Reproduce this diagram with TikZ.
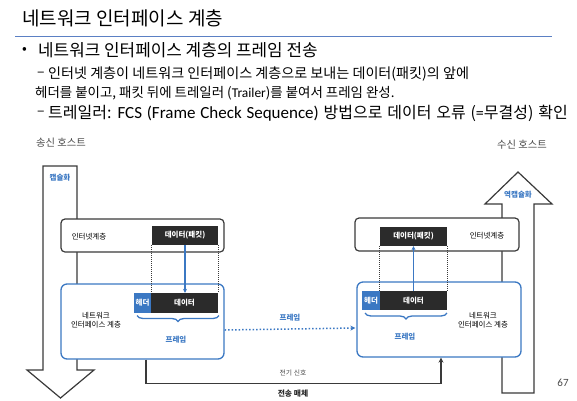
\documentclass[tikz,border=0pt]{standalone}
\usepackage{fontspec}
\setmainfont{Noto Sans CJK KR}
\newfontfamily\lat{Carlito}
\usetikzlibrary{arrows.meta,decorations.pathreplacing}
\definecolor{ifblue}{HTML}{3B78C3}
\definecolor{rulblue}{HTML}{5B80C4}
\definecolor{darkbox}{HTML}{2B2B2B}
\definecolor{edge}{HTML}{3A3A3A}
\definecolor{labgray}{HTML}{4A4A4A}
\tikzset{
  layerbox/.style={draw=edge, line width=1.2pt, rounded corners=4pt, fill=white, inner sep=0pt},
  netbox/.style={draw=ifblue, line width=1.3pt, rounded corners=6pt, fill=white, inner sep=0pt},
  databox/.style={fill=darkbox, text=white, inner sep=0pt, font=\fontsize{7.5}{8}\selectfont\bfseries},
  headbox/.style={fill=ifblue, text=white, inner sep=0pt, font=\fontsize{7.5}{8}\selectfont\bfseries},
  bigarrow/.style={draw=edge, line width=1.2pt, fill=white, line join=miter},
  small/.style={inner sep=0pt, text=labgray, font=\fontsize{7.5}{9}\selectfont},
  bluelab/.style={inner sep=0pt, text=ifblue, font=\fontsize{7.5}{9}\selectfont\bfseries},
  guide/.style={densely dotted, line width=1pt, draw=edge},
  flow/.style={draw=ifblue, line width=1.2pt, -{Stealth[length=4pt,width=4pt]}},
  framebrace/.style={draw=ifblue, line width=1.3pt, decorate, decoration={brace, mirror, amplitude=6pt}},
  txt/.style={inner sep=0pt, anchor=west, text=black}
}
\begin{document}
\begin{tikzpicture}[x=1pt,y=-1pt]
\useasboundingbox (0,0) rectangle (577,400);

% heading and bullets
\node[txt, font=\fontsize{19}{21}\selectfont] (title) at (22,18) {네트워크 인터페이스 계층};
\draw[rulblue, line width=1.5pt] (15,36.5) -- (552,36.5);
\node[txt, font=\fontsize{14}{16}\selectfont] (b1) at (22,50) {•};
\node[txt, font=\fontsize{16.9}{18}\selectfont] (t1) at (38,50) {네트워크 인터페이스 계층의 프레임 전송};
\node[txt, font=\fontsize{13.9}{15}\selectfont] (d1) at (37,74) {–};
\node[txt, font=\fontsize{14.1}{15}\selectfont] (t2) at (48,74) {인터넷 계층이 네트워크 인터페이스 계층으로 보내는 데이터(패킷)의 앞에};
\node[txt, font=\fontsize{13.45}{15}\selectfont] (t3) at (35,93) {헤더를 붙이고, 패킷 뒤에 트레일러 ({\lat Trailer})를 붙여서 프레임 완성.};
\node[txt, font=\fontsize{13.9}{15}\selectfont] (d2) at (37,113) {–};
\node[txt, font=\fontsize{16}{17}\selectfont] (t4) at (48,113) {\spaceskip=4.8pt 트레일러: {\lat\fontsize{17}{18}\selectfont FCS (Frame Check Sequence)} 방법으로 데이터 오류 ({\lat =}무결성) 확인};

% hosts
\node[small, font=\fontsize{10.3}{11}\selectfont] (snd) at (61,143) {송신 호스트};
\node[small, font=\fontsize{10.3}{11}\selectfont] (rcv) at (522,145) {수신 호스트};

% encapsulation / decapsulation arrows
\draw[bigarrow] (43,166) -- (77,166) -- (77,370) -- (94,370) -- (60.5,398) -- (27,370) -- (43,370) -- cycle;
\draw[bigarrow] (502,393) -- (502,204) -- (485,204) -- (518,172) -- (552,204) -- (534,204) -- (534,393) -- cycle;
\node[bluelab] (enc) at (60,178) {캡슐화};
\node[bluelab] (dec) at (518,195) {역캡슐화};

% sending host layers
\node[layerbox, minimum width=163pt, minimum height=33pt] (lip) at (142.5,235.5) {};
\node[small, text=black] (liptxt) at (89,237) {인터넷계층};
\node[databox, minimum width=66pt, minimum height=19pt] (lpkt) at (185,235.5) {데이터(패킷)};
\node[netbox, minimum width=163pt, minimum height=75pt] (lnet) at (142.5,321.5) {};
\node[small, text=black, align=center, font=\fontsize{7.5}{9}\selectfont] (lnettxt) at (96,320) {네트워크\\인터페이스 계층};
\node[headbox, minimum width=17pt, minimum height=20pt] (lhdr) at (142.5,303) {헤더};
\node[databox, minimum width=67pt, minimum height=20pt] (ldata) at (184.5,303) {데이터};
\draw[framebrace] (137,315.5) -- (219,315.5);
\node[bluelab] (lfr) at (176,340) {프레임};

% receiving host layers
\node[layerbox, minimum width=164pt, minimum height=33pt] (rip) at (437,234.5) {};
\node[small, text=black] (riptxt) at (487,236) {인터넷계층};
\node[databox, minimum width=67pt, minimum height=19pt] (rpkt) at (413.5,236.5) {데이터(패킷)};
\node[netbox, minimum width=164pt, minimum height=75pt] (rnet) at (439,319.5) {};
\node[small, text=black, align=center, font=\fontsize{7.5}{9}\selectfont] (rnettxt) at (483,320) {네트워크\\인터페이스 계층};
\node[headbox, minimum width=18pt, minimum height=19pt] (rhdr) at (371,300.5) {헤더};
\node[databox, minimum width=67pt, minimum height=19pt] (rdata) at (413.5,300.5) {데이터};
\draw[framebrace] (365,313) -- (447,313);
\node[bluelab] (rfr) at (405,337) {프레임};

% packet boundaries between layers
\draw[guide] (lpkt.south west) -- (lpkt.south west |- ldata.north);
\draw[guide] (lpkt.south east) -- (lpkt.south east |- ldata.north);
\draw[guide] (rpkt.south west) -- (rpkt.south west |- rdata.north);
\draw[guide] (rpkt.south east) -- (rpkt.south east |- rdata.north);
\draw[flow] (lpkt.south) -- (lpkt.south |- ldata.north);
\draw[flow] (rdata.north) -- (rdata.north |- rpkt.south);

% frame transfer
\draw[draw=ifblue, line width=1.5pt, dotted, -{Stealth[length=5pt,width=5pt]}] ([yshift=-8.5pt]lnet.east) -- ([yshift=-8.5pt,xshift=-1pt]rnet.west);
\node[bluelab] (frm) at (290,318) {프레임};

% physical medium
\draw[draw=edge, line width=1.5pt, -{Stealth[length=5pt,width=5pt]}] ([xshift=3.5pt]lnet.south) -- ++(0,24) -| ([xshift=2pt]rnet.south);
\node[small, font=\fontsize{6.8}{8}\selectfont] (sig) at (293,373) {전기 신호};
\node[small, text=darkbox, font=\fontsize{7.8}{9}\selectfont\bfseries] (med) at (293,394) {전송 매체};

\node[inner sep=0pt, text=labgray, font=\lat\fontsize{11}{12}\selectfont] (pg) at (563,383) {67};
\end{tikzpicture}
\end{document}
